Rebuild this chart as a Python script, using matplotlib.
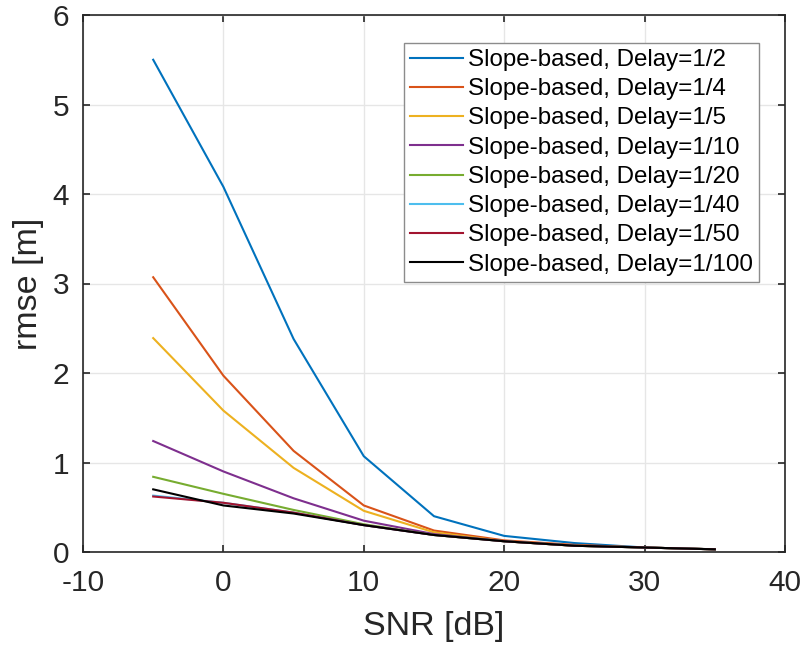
import matplotlib
matplotlib.use("Agg")
import matplotlib.pyplot as plt

# SNR values (dB)
snr = [-5, 0, 5, 10, 15, 20, 25, 30, 35]

delay_labels = ["1/2", "1/4", "1/5", "1/10", "1/20", "1/40", "1/50", "1/100"]

rmse_1_2 = [5.50, 4.08, 2.38, 1.07, 0.40, 0.18, 0.10, 0.05, 0.03]
rmse_1_4 = [3.07, 1.97, 1.13, 0.52, 0.24, 0.13, 0.08, 0.05, 0.03]
rmse_1_5 = [2.39, 1.58, 0.94, 0.46, 0.22, 0.12, 0.07, 0.05, 0.03]
rmse_1_10 = [1.24, 0.90, 0.60, 0.35, 0.20, 0.12, 0.07, 0.05, 0.03]
rmse_1_20 = [0.84, 0.65, 0.47, 0.31, 0.19, 0.12, 0.07, 0.05, 0.03]
rmse_1_40 = [0.63, 0.55, 0.44, 0.30, 0.19, 0.12, 0.07, 0.05, 0.03]
rmse_1_50 = [0.62, 0.55, 0.44, 0.30, 0.19, 0.12, 0.07, 0.05, 0.03]
rmse_1_100 = [0.70, 0.52, 0.43, 0.30, 0.19, 0.12, 0.07, 0.05, 0.03]

series = [rmse_1_2, rmse_1_4, rmse_1_5, rmse_1_10,
          rmse_1_20, rmse_1_40, rmse_1_50, rmse_1_100]

# MATLAB default line colours
colors = ['#0072BD', '#D95319', '#EDB120', '#7E2F8E',
          '#77AC30', '#4DBEEE', '#A2142F', '#000000']

plt.rcParams['font.family'] = ['Liberation Sans', 'DejaVu Sans']
plt.rcParams['axes.unicode_minus'] = False

fig = plt.figure(figsize=(8.04, 6.48), dpi=100)
# axes box: x 83..785 px, y 15..552 px
ax = fig.add_axes([83 / 804, 96 / 648, 702 / 804, 537 / 648])

for vals, lab, c in zip(series, delay_labels, colors):
    ax.plot(snr, vals, color=c, linewidth=1.5,
            label=f"Slope-based, Delay={lab}")

ax.set_xlim(-10, 40)
ax.set_ylim(0, 6)
ax.set_xticks(range(-10, 41, 10))
ax.set_yticks(range(0, 7))
ax.grid(True, color='#e6e6e6', linewidth=1)
ax.set_axisbelow(True)

for side in ax.spines:
    ax.spines[side].set_color('#262626')
    ax.spines[side].set_linewidth(1.2)

ax.tick_params(direction='in', length=5, width=1.2, colors='#262626',
               labelsize=21.5, top=True, right=True)
ax.tick_params(axis='x', pad=12)
ax.tick_params(axis='y', pad=10)
ax.set_xlabel('SNR [dB]', fontsize=24.5, color='#262626', labelpad=10)
ax.set_ylabel('rmse [m]', fontsize=24.5, color='#262626', labelpad=6)

leg = ax.legend(loc='upper right', bbox_to_anchor=(0.963, 0.948),
                fontsize=17.4, frameon=True, fancybox=False, framealpha=1,
                handlelength=2.2, handletextpad=0.2, labelspacing=0.3,
                borderpad=0.25, borderaxespad=0)
leg.get_frame().set_edgecolor('#8c8c8c')
leg.get_frame().set_linewidth(1)

fig.savefig('out.png', dpi=100)
